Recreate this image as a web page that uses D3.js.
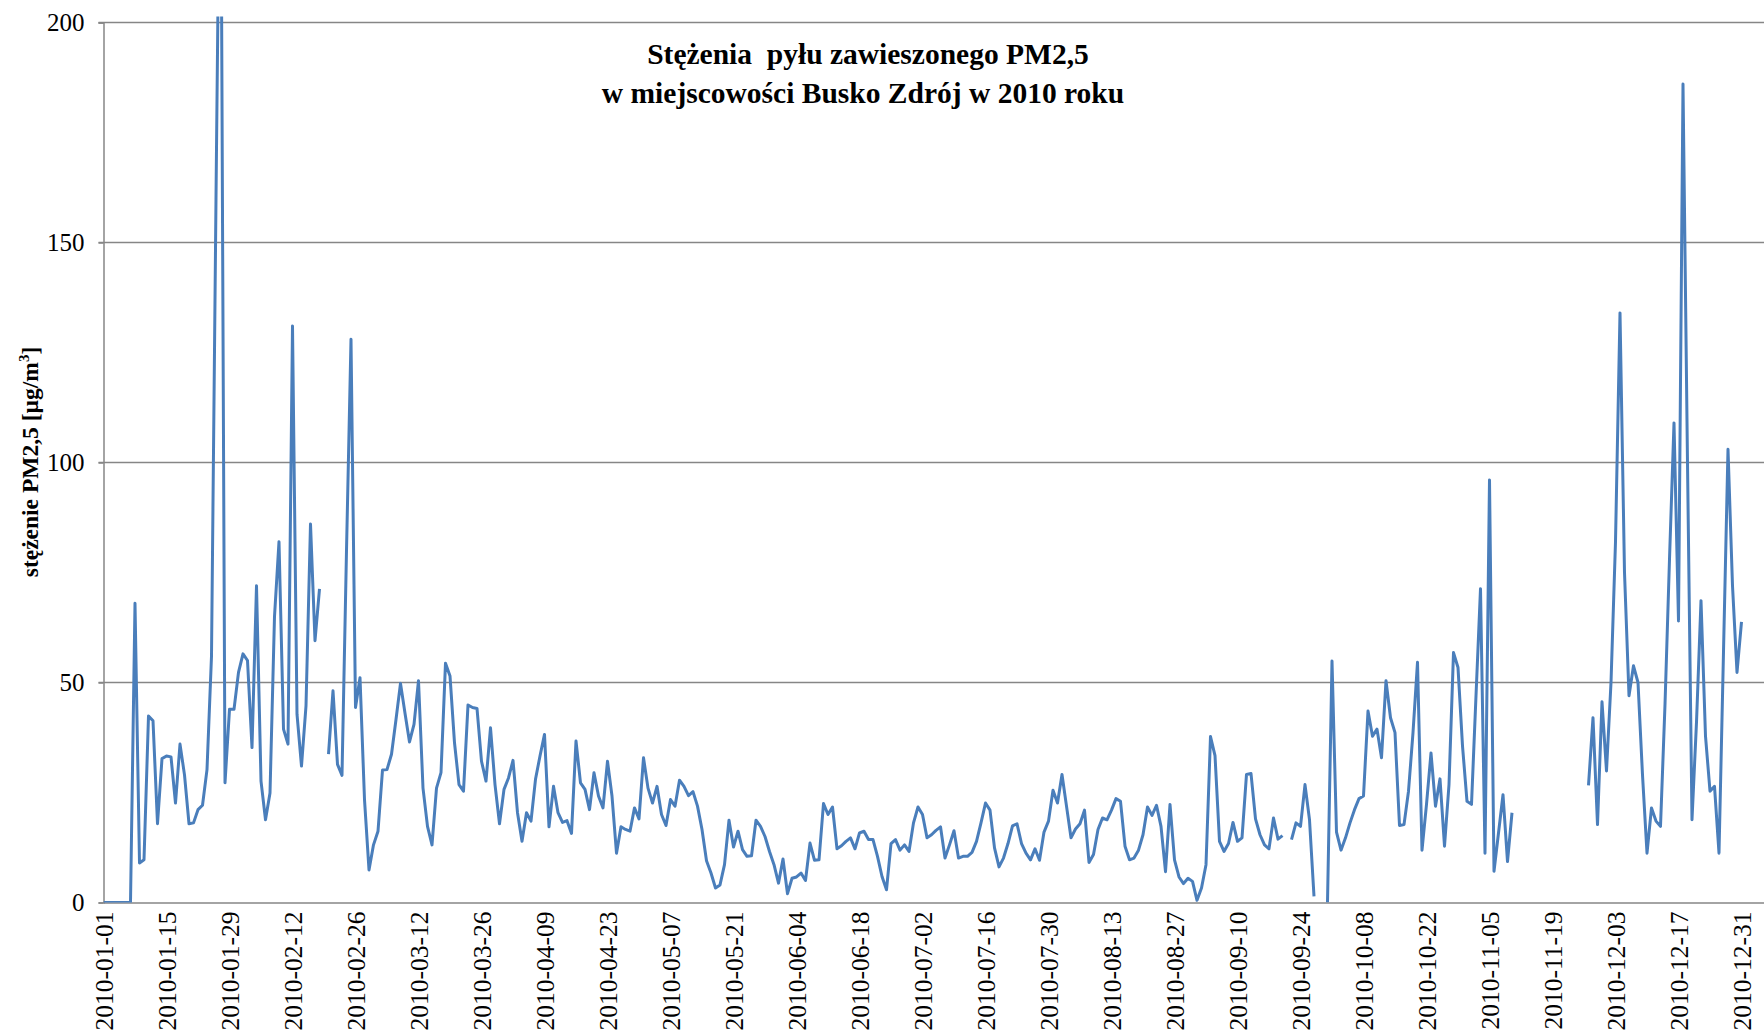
<!DOCTYPE html>
<html>
<head>
<meta charset="utf-8">
<script src="https://cdn.jsdelivr.net/npm/d3@7"></script>
<style>
  body { margin: 0; background: #fff; }
  text { font-family: "Liberation Serif", "Times New Roman", serif; fill: #000; }
</style>
</head>
<body>
<div id="chart"></div>
<script>
// daily PM2.5 values for 2010 (null = no measurement)
const startDate = "2010-01-01";
const pm25 = [
  0, 0, 0, 0, 0, 0, 0, 68, 9, 9.7,
  42.4, 41.3, 17.9, 32.7, 33.3, 33.1, 22.6, 36, 29, 17.9,
  18.1, 21.1, 22.1, 30.2, 56, 160, 260, 27.2, 43.9, 43.9,
  52.3, 56.5, 55, 35.2, 72, 27.6, 18.8, 24.9, 65, 82,
  39.4, 36, 131, 42.8, 31, 44.7, 86, 59.5, 71.3, null,
  33.7, 48.1, 31.4, 28.9, 80, 128, 44.3, 51.1, 23.4, 7.4,
  13.1, 16.2, 30.1, 30.2, 33.7, 41.6, 49.8, 43, 36.5, 40.5,
  50.4, 26, 17.3, 13.1, 26, 29.5, 54.4, 51.5, 36.3, 26.8,
  25.3, 44.9, 44.3, 44.1, 32.1, 27.6, 39.7, 26.8, 17.9, 25.7,
  28.3, 32.3, 20.4, 13.9, 20.4, 18.5, 28, 33.3, 38.2, 17.2,
  26.4, 20.4, 18.2, 18.6, 15.7, 36.7, 27.2, 25.7, 21.1, 29.5,
  24.2, 21.5, 32.1, 24.2, 11.2, 17.2, 16.6, 16.2, 21.5, 19,
  32.9, 26, 22.6, 26.4, 20, 17.5, 23.4, 21.9, 27.8, 26.4,
  24.3, 25.2, 21.9, 16.6, 9.5, 6.7, 3.3, 4, 8.6, 18.7,
  12.6, 16.2, 12, 10.5, 10.6, 18.7, 17.3, 15, 11.6, 8.6,
  4.4, 9.9, 2, 5.5, 5.8, 6.7, 5, 13.5, 9.6, 9.7,
  22.5, 20, 21.7, 12.2, 12.9, 13.9, 14.7, 12.2, 15.8, 16.2,
  14.3, 14.3, 10.5, 5.9, 2.9, 13.4, 14.3, 11.9, 13.1, 11.6,
  18.1, 21.7, 20, 14.7, 15.4, 16.4, 17.2, 10.1, 13.1, 16.3,
  10.1, 10.5, 10.5, 11.4, 13.9, 18.1, 22.6, 21, 12.4, 8.1,
  10.1, 13.4, 17.4, 17.9, 13.4, 11.2, 9.7, 12.2, 9.6, 16,
  18.5, 25.5, 22.6, 29.1, 21.9, 14.7, 16.7, 17.9, 21, 9.1,
  10.9, 16.6, 19.2, 18.8, 21, 23.6, 23, 12.8, 9.7, 10.1,
  11.9, 15.4, 21.7, 19.8, 22.1, 17.3, 7, 22.3, 9.7, 5.8,
  4.3, 5.5, 4.8, 0.5, 3.3, 8.6, 37.7, 33.4, 13.9, 11.6,
  13.4, 18.2, 13.9, 14.7, 29.1, 29.3, 19, 15.4, 13.1, 12.2,
  19.2, 14.4, 15.2, null, 14.3, 18.1, 17.3, 26.8, 18.8, 1.4,
  null, null, 0, 54.9, 16, 11.9, 14.7, 18.1, 21.1, 23.6,
  24.2, 43.5, 37.8, 39.4, 32.9, 50.4, 42, 38.6, 17.5, 17.7,
  25.3, 38.6, 54.6, 11.9, 22.3, 34, 21.9, 28.1, 12.8, 26.8,
  56.8, 53.4, 35.6, 23, 22.3, 47, 71.3, 11.2, 96, 7.1,
  15.8, 24.5, 9.3, 20.4, null, null, null, null, null, null,
  null, null, null, null, null, null, null, null, null, null,
  26.6, 42, 17.7, 45.6, 29.9, 50, 82, 134, 75, 47,
  53.8, 50, 29, 11.2, 21.5, 18.5, 17.3, 45, 78, 109,
  64, 186, 100, 18.8, 41, 68.6, 37.8, 25.3, 26.4, 11.2,
  57, 103, 72, 52.3, 63.8
];
const tickLabels = [
  "2010-01-01", "2010-01-15", "2010-01-29", "2010-02-12", "2010-02-26",
  "2010-03-12", "2010-03-26", "2010-04-09", "2010-04-23", "2010-05-07",
  "2010-05-21", "2010-06-04", "2010-06-18", "2010-07-02", "2010-07-16",
  "2010-07-30", "2010-08-13", "2010-08-27", "2010-09-10", "2010-09-24",
  "2010-10-08", "2010-10-22", "2010-11-05", "2010-11-19", "2010-12-03",
  "2010-12-17", "2010-12-31"
];
const yTicks = [0, 50, 100, 150, 200];
const titleLines = ["Stężenia  pyłu zawieszonego PM2,5", "w miejscowości Busko Zdrój w 2010 roku"];

const W = 1764, H = 1032;
const margin = {top: 22.5, right: 0, bottom: 129.5, left: 103.5};
const parse = d3.utcParse("%Y-%m-%d");
const t0 = parse(startDate);

const data = pm25.map((v, i) => ({date: d3.utcDay.offset(t0, i), v: v}));

let x = d3.scaleUtc()
  .domain([t0, d3.utcDay.offset(t0, 369)])
  .range([margin.left, W - margin.right]);
let y = d3.scaleLinear()
  .domain([0, 200])
  .range([H - margin.bottom, margin.top]);

let svg = d3.select("#chart")
  .append("svg")
  .attr("width", W)
  .attr("height", H)
  .style("display", "block");

svg.append("rect").attr("width", W).attr("height", H).attr("fill", "#fff");

// gridlines
svg.append("g")
  .selectAll("line")
  .data(yTicks.filter(d => d > 0))
  .enter()
  .append("line")
  .attr("x1", margin.left - 5)
  .attr("x2", W)
  .attr("y1", d => y(d))
  .attr("y2", d => y(d))
  .attr("stroke", "#868686")
  .attr("stroke-width", 1.5);

// y axis
let yAxis = d3.axisLeft(y)
  .tickValues(yTicks)
  .tickSize(5)
  .tickPadding(14);
let gy = svg.append("g")
  .attr("transform", `translate(${margin.left},0)`)
  .call(yAxis);
gy.select(".domain").attr("stroke", "#868686").attr("stroke-width", 1.5);
gy.selectAll(".tick line").attr("stroke", "#868686").attr("stroke-width", 1.5);
gy.selectAll("text")
  .style("font-size", "25px")
  .style("font-family", "Liberation Serif");

// x axis
let tickDates = tickLabels.map(parse);
let xAxis = d3.axisBottom(x)
  .tickValues(tickDates)
  .tickFormat(d3.utcFormat("%Y-%m-%d"))
  .tickSize(0)
  .tickPadding(0);
let gx = svg.append("g")
  .attr("transform", `translate(0,${y(0)})`)
  .call(xAxis);
gx.select(".domain").attr("stroke", "#868686").attr("stroke-width", 1.5);
gx.selectAll("text")
  .style("font-size", "25.5px")
  .style("font-family", "Liberation Serif")
  .style("text-anchor", "end")
  .attr("x", -9)
  .attr("y", 0)
  .attr("dy", "0.35em")
  .attr("transform", "rotate(-90)");

// clip to plot area
svg.append("clipPath")
  .attr("id", "plotClip")
  .append("rect")
  .attr("x", margin.left)
  .attr("y", margin.top - 6)
  .attr("width", W - margin.left)
  .attr("height", y(0) - margin.top + 6);

let line = d3.line()
  .defined(d => d.v !== null)
  .x(d => x(d.date))
  .y(d => y(d.v));

svg.append("path")
  .datum(data)
  .attr("clip-path", "url(#plotClip)")
  .attr("fill", "none")
  .attr("stroke", "#4a7ebb")
  .attr("stroke-width", 3)
  .attr("stroke-linejoin", "round")
  .attr("d", line);

// title
let title = svg.append("text")
  .attr("x", 866)
  .attr("y", 64)
  .style("text-anchor", "middle")
  .style("font-weight", "bold")
  .style("font-size", "29.5px");
title.selectAll("tspan")
  .data(titleLines)
  .enter()
  .append("tspan")
  .attr("x", (d, i) => i === 0 ? 868 : 863)
  .attr("dy", (d, i) => i === 0 ? 0 : 39)
  .style("white-space", "pre")
  .text(d => d);

// y axis label
let yl = svg.append("text")
  .attr("transform", "translate(38,462) rotate(-90)")
  .style("text-anchor", "middle")
  .style("font-weight", "bold")
  .style("font-size", "23.5px");
yl.append("tspan").text("stężenie PM2,5 [µg/m");
yl.append("tspan").attr("dy", -9).style("font-size", "15px").text("3");
yl.append("tspan").attr("dy", 9).text("]");
</script>
</body>
</html>
